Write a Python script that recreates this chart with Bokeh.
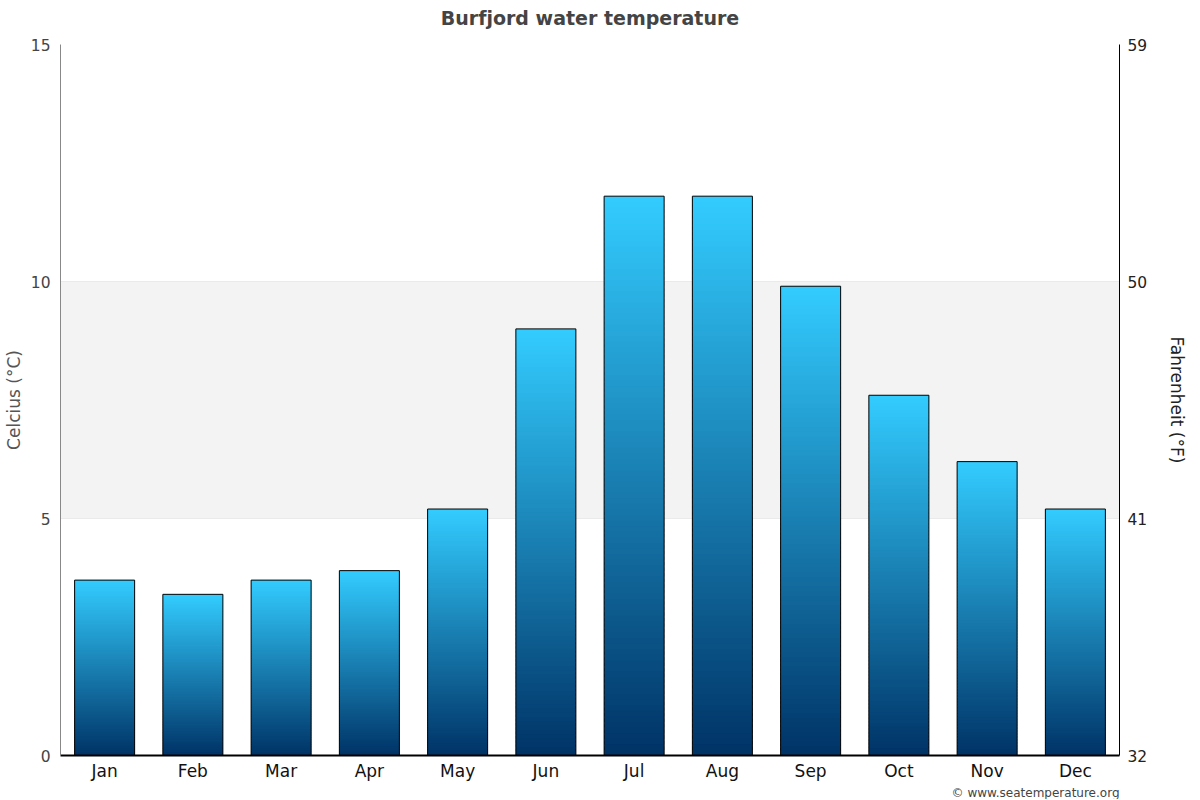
from bokeh.plotting import figure
from bokeh.models import (Range1d, LinearAxis, FixedTicker, BoxAnnotation, Title, FactorRange)
from bokeh.embed import file_html
from bokeh.resources import INLINE

months = ["Jan", "Feb", "Mar", "Apr", "May", "Jun", "Jul", "Aug", "Sep", "Oct", "Nov", "Dec"]
celsius = [3.7, 3.4, 3.7, 3.9, 5.2, 9.0, 11.8, 11.8, 9.9, 7.6, 6.2, 5.2]
c_ticks = [0, 5, 10, 15]
f_ticks = [32, 41, 50, 59]

FONT = "DejaVu Sans"
N = 100
bottom_rgb = (0, 51, 102)
top_rgb = (51, 204, 255)

xs, bots, tops, cols = [], [], [], []
for m, v in zip(months, celsius):
    for i in range(N):
        t = (i + 0.5) / N
        r = round(bottom_rgb[0] + (top_rgb[0] - bottom_rgb[0]) * t)
        g = round(bottom_rgb[1] + (top_rgb[1] - bottom_rgb[1]) * t)
        b = round(bottom_rgb[2] + (top_rgb[2] - bottom_rgb[2]) * t)
        xs.append(m)
        bots.append(v * i / N)
        tops.append(min(v, v * (i + 1.6) / N))
        cols.append("#%02x%02x%02x" % (r, g, b))

p = figure(x_range=FactorRange(*months), y_range=Range1d(0, 15),
           frame_width=1059, frame_height=711,
           output_backend="svg", toolbar_location=None,
           min_border_left=0, min_border_top=0, min_border_right=0, min_border_bottom=0)
p.outline_line_color = None
p.background_fill_color = "white"

p.title.text = "Burfjord water temperature"
p.title.align = "center"
p.title.text_font = FONT
p.title.text_font_size = "19px"
p.title.text_font_style = "bold"
p.title.text_color = "#444444"
p.title.standoff = 8

spacer = Title(text=" ", text_font=FONT, text_font_size="8.2px", standoff=0)
p.add_layout(spacer, "above")

band = BoxAnnotation(bottom=5, top=10, fill_color="#f3f3f3", fill_alpha=1, line_color=None, level="underlay")
p.add_layout(band)

p.vbar(x=xs, bottom=bots, top=tops, width=0.68, fill_color=cols, line_color=None)
p.vbar(x=months, top=celsius, width=0.68, fill_alpha=0, line_color="black", line_width=1)

p.xgrid.grid_line_color = None
p.ygrid.ticker = FixedTicker(ticks=c_ticks)
p.ygrid.grid_line_color = "#e0e0e0"

ya = p.yaxis[0]
ya.ticker = FixedTicker(ticks=c_ticks)
ya.axis_label = "Celcius (°C)"
ya.axis_label_text_font = FONT
ya.axis_label_text_font_size = "17px"
ya.axis_label_text_font_style = "normal"
ya.axis_label_text_color = "#555555"
ya.major_label_text_font = FONT
ya.major_label_text_font_size = "15.5px"
ya.major_label_text_color = "#444444"
ya.axis_line_color = "#888888"
ya.major_tick_line_color = None
ya.minor_tick_line_color = None
ya.major_tick_out = 0
ya.minor_tick_out = 0
ya.major_tick_in = 0
ya.minor_tick_in = 0
ya.major_label_standoff = 10
ya.axis_label_standoff = 4

p.extra_y_ranges = {"f": Range1d(32, 59)}
ra = LinearAxis(y_range_name="f", ticker=FixedTicker(ticks=f_ticks))
ra.axis_label = "Fahrenheit (°F)"
ra.axis_label_orientation = "vertical"
ra.axis_label_text_font = FONT
ra.axis_label_text_font_size = "17px"
ra.axis_label_text_font_style = "normal"
ra.axis_label_text_color = "#222222"
ra.major_label_text_font = FONT
ra.major_label_text_font_size = "15.5px"
ra.major_label_text_color = "#222222"
ra.axis_line_color = "black"
ra.major_tick_line_color = None
ra.minor_tick_line_color = None
ra.major_tick_out = 0
ra.minor_tick_out = 0
ra.major_tick_in = 0
ra.minor_tick_in = 0
ra.major_label_standoff = 8
ra.axis_label_standoff = 17
p.add_layout(ra, "right")

xa = p.xaxis[0]
xa.axis_line_color = "black"
xa.axis_line_width = 2
xa.major_tick_line_color = None
xa.minor_tick_line_color = None
xa.major_tick_out = 0
xa.major_tick_in = 0
xa.minor_tick_out = 0
xa.minor_tick_in = 0
xa.major_label_text_font = FONT
xa.major_label_text_font_size = "17px"
xa.major_label_text_color = "#111111"
xa.major_label_standoff = 5

credit = Title(text="© www.seatemperature.org", align="right", text_font=FONT,
               text_font_size="12px", text_font_style="normal", text_color="#444444",
               standoff=0, offset=0)
p.add_layout(credit, "below")

open("out.html", "w").write(file_html(p, INLINE))
